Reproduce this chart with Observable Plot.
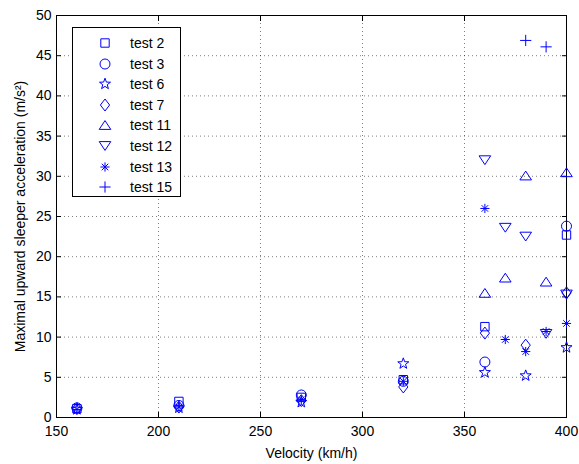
<!DOCTYPE html>
<html><head><meta charset="utf-8">
<script src="https://cdn.jsdelivr.net/npm/d3@7"></script>
<script src="https://cdn.jsdelivr.net/npm/@observablehq/plot@0.6"></script>
<style>
body{margin:0;background:#fff;}
#wrap{position:relative;width:579px;height:464px;font-family:"Liberation Sans",Arial,sans-serif;}
#legend{position:absolute;left:72px;top:27px;width:109px;height:170px;border:1px solid #000;background:#fff;box-sizing:border-box;}
.lrow{position:absolute;left:0;height:20px;display:flex;align-items:center;font-size:14px;}
.lrow svg{position:absolute;left:22px;top:0;}
.lrow span{position:absolute;left:57px;white-space:nowrap;line-height:20px;}
</style></head>
<body><div id="wrap"><div id="chart"></div><div id="legend"></div></div>
<script>
const tests = ["test 2","test 3","test 6","test 7","test 11","test 12","test 13","test 15"];
const velTest2 = [160,210,270,320,360,400];
const accTest2 = [1.1,2.0,2.5,4.7,11.3,22.7];
const velTest3 = [160,210,270,320,360,400];
const accTest3 = [1.2,1.5,2.8,4.5,6.9,23.8];
const velTest6 = [160,210,270,320,360,380,400];
const accTest6 = [1.0,1.2,1.9,6.7,5.6,5.2,8.7];
const velTest7 = [160,210,270,320,360,380,400];
const accTest7 = [1.1,1.3,2.1,3.8,10.5,9.0,15.5];
const velTest11 = [360,370,380,390,400];
const accTest11 = [15.5,17.4,30.1,16.9,30.5];
const velTest12 = [360,370,380,390,400];
const accTest12 = [32.0,23.6,22.5,10.4,15.3];
const velTest13 = [160,210,270,320,360,370,380,390,400];
const accTest13 = [1.0,1.3,2.2,4.5,26.0,9.7,8.2,10.7,11.7];
const velTest15 = [380,390];
const accTest15 = [46.9,46.1];
const xTicks = [150,200,250,300,350,400];
const yTicks = [0,5,10,15,20,25,30,35,40,45,50];

const vels = [velTest2,velTest3,velTest6,velTest7,velTest11,velTest12,velTest13,velTest15];
const accs = [accTest2,accTest3,accTest6,accTest7,accTest11,accTest12,accTest13,accTest15];
const data = [];
tests.forEach((t,k)=>vels[k].forEach((v,i)=>data.push({test:t, v, a:accs[k][i]})));

const mk = fn => ({draw(ctx,size){const r=Math.sqrt(size/Math.PI); fn(ctx,r/5);}});
const symbols = [
  mk((c,s)=>{const h=4.2*s;c.moveTo(-h,-h);c.lineTo(h,-h);c.lineTo(h,h);c.lineTo(-h,h);c.closePath();}),
  mk((c,s)=>{const r=5*s;c.moveTo(r,0);c.arc(0,0,r,0,2*Math.PI);c.closePath();}),
  mk((c,s)=>{const R=5.8*s,ri=2.35*s;for(let i=0;i<10;i++){const rr=i%2?ri:R;const a=-Math.PI/2+i*Math.PI/5;const x=rr*Math.cos(a),y=rr*Math.sin(a);i?c.lineTo(x,y):c.moveTo(x,y);}c.closePath();}),
  mk((c,s)=>{const w=4.6*s,h=6*s;c.moveTo(0,-h);c.lineTo(w,0);c.lineTo(0,h);c.lineTo(-w,0);c.closePath();}),
  mk((c,s)=>{const w=5.8*s,h=4.4*s;c.moveTo(0,-h);c.lineTo(w,h);c.lineTo(-w,h);c.closePath();}),
  mk((c,s)=>{const w=5.8*s,h=4.4*s;c.moveTo(0,h);c.lineTo(w,-h);c.lineTo(-w,-h);c.closePath();}),
  mk((c,s)=>{const l=4.6*s,d=l*0.7071;c.moveTo(-l,0);c.lineTo(l,0);c.moveTo(0,-l);c.lineTo(0,l);c.moveTo(-d,-d);c.lineTo(d,d);c.moveTo(-d,d);c.lineTo(d,-d);}),
  mk((c,s)=>{const l=5.6*s;c.moveTo(-l,0);c.lineTo(l,0);c.moveTo(0,-l);c.lineTo(0,l);})
];
const blue = "#0000ff";
const font = '"Liberation Sans", Arial, sans-serif';

const chart = Plot.plot({
  width:579, height:464,
  marginLeft:56, marginRight:13, marginTop:15, marginBottom:47,
  style:{fontFamily:font, fontSize:"14px", color:"#000", background:"#fff"},
  x:{domain:[150,400]},
  y:{domain:[0,50]},
  symbol:{domain:tests, range:symbols},
  marks:[
    Plot.gridX(xTicks.slice(1,-1),{stroke:"#000",strokeOpacity:0.5,strokeDasharray:"1,3"}),
    Plot.gridY(yTicks.slice(1,-1),{stroke:"#000",strokeOpacity:0.5,strokeDasharray:"1,3"}),
    Plot.axisX(xTicks,{anchor:"bottom",tickSize:-5,tickPadding:14,label:"Velocity (km/h)",labelAnchor:"center",labelOffset:40,labelArrow:"none",fontSize:14}),
    Plot.axisX(xTicks,{anchor:"top",tickSize:-5,tickFormat:()=>"",label:null}),
    Plot.axisY(yTicks,{anchor:"left",tickSize:-5,tickPadding:10,label:"Maximal upward sleeper acceleration (m/s²)",labelAnchor:"center",labelOffset:41,labelArrow:"none",fontSize:14}),
    Plot.axisY(yTicks,{anchor:"right",tickSize:-5,tickFormat:()=>"",label:null}),
    Plot.frame({stroke:"#000"}),
    Plot.dot(data,{x:"v",y:"a",symbol:"test",r:5,stroke:blue,fill:"none",strokeWidth:1})
  ]
});
document.getElementById("chart").appendChild(chart);

const leg = document.getElementById("legend");
tests.forEach((t,k)=>{
  const row=document.createElement("div");
  row.className="lrow";
  row.style.top=(5+k*20.6)+"px";
  row.style.width="100%";
  const p=d3.path(); symbols[k].draw(p,25*Math.PI);
  row.innerHTML=`<svg width="20" height="20" viewBox="-10 -10 20 20"><path d="${p}" fill="none" stroke="${blue}" stroke-width="1"/></svg><span>${t}</span>`;
  leg.appendChild(row);
});
</script></body></html>
